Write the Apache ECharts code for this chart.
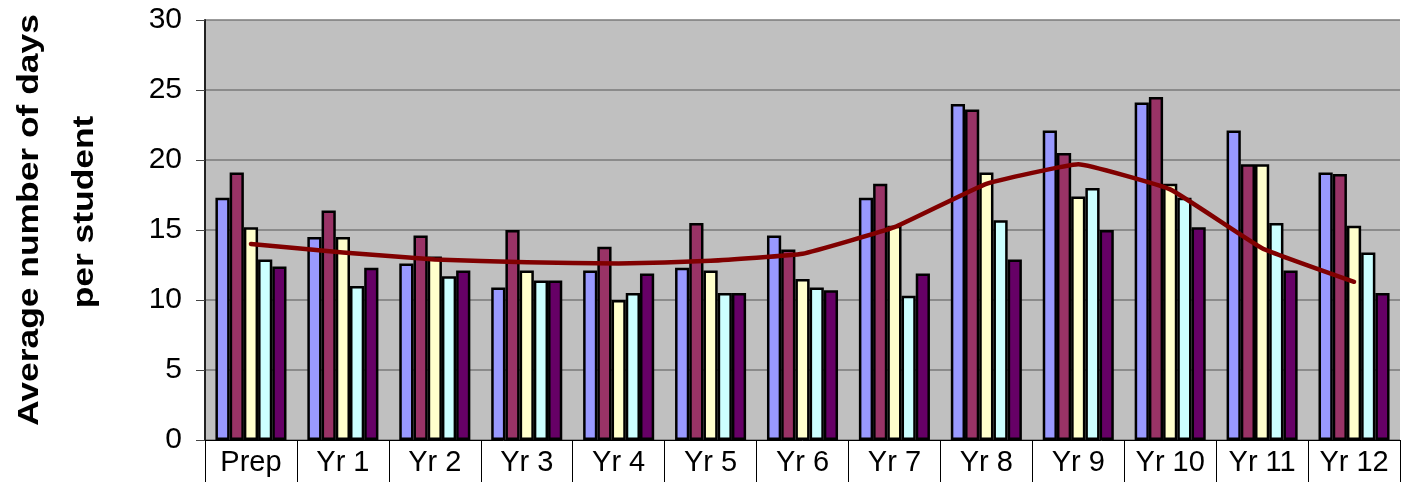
<!DOCTYPE html>
<html>
<head>
<meta charset="utf-8">
<script src="https://cdn.jsdelivr.net/npm/echarts@6/dist/echarts.min.js"></script>
<style>
html,body{margin:0;padding:0;background:#fff;}
#chart{width:1401px;height:482px;}
</style>
</head>
<body>
<div id="chart"></div>
<script>
var categories = ['Prep','Yr 1','Yr 2','Yr 3','Yr 4','Yr 5','Yr 6','Yr 7','Yr 8','Yr 9','Yr 10','Yr 11','Yr 12'];
var yTicks = [0, 5, 10, 15, 20, 25, 30];
var titleLines = ['Average number of days', 'per student'];
var series1 = [17.3, 14.5, 12.6, 10.9, 12.1, 12.3, 14.6, 17.3, 24.0, 22.1, 24.1, 22.1, 19.1];
var series2 = [19.1, 16.4, 14.6, 15.0, 13.8, 15.5, 13.6, 18.3, 23.6, 20.5, 24.5, 19.7, 19.0];
var series3 = [15.2, 14.5, 13.1, 12.1, 10.0, 12.1, 11.5, 15.3, 19.1, 17.4, 18.3, 19.7, 15.3];
var series4 = [12.9, 11.0, 11.7, 11.4, 10.5, 10.5, 10.9, 10.3, 15.7, 18.0, 17.3, 15.5, 13.4];
var series5 = [12.4, 12.3, 12.1, 11.4, 11.9, 10.5, 10.7, 11.9, 12.9, 15.0, 15.2, 12.1, 10.5];
var trend   = [14.0, 13.4, 12.9, 12.7, 12.6, 12.8, 13.3, 15.2, 18.3, 19.7, 17.9, 13.7, 11.3];

var barColors = ['#9999FF', '#993366', '#FFFFCC', '#CCFFFF', '#660066'];
var barData = [series1, series2, series3, series4, series5];
var FONT = '"Liberation Sans", Arial, sans-serif';

var seriesList = barData.map(function (d, i) {
  return {
    type: 'bar',
    data: d,
    barGap: '0%',
    barCategoryGap: '22.7%',
    itemStyle: { color: barColors[i], borderColor: '#000', borderWidth: 2.5 },
    emphasis: { disabled: true },
    z: 2
  };
});
seriesList.push({
  type: 'line',
  data: trend,
  smooth: 0.1,
  symbol: 'none',
  lineStyle: { color: '#800000', width: 4.5, cap: 'round', join: 'round' },
  emphasis: { disabled: true },
  z: 5
});

var chart = echarts.init(document.getElementById('chart'), null, { renderer: 'canvas' });
chart.setOption({
  animation: false,
  backgroundColor: '#ffffff',
  grid: { left: 205, right: 1, top: 20, bottom: 42, containLabel: false, outerBoundsMode: 'none', show: true, backgroundColor: '#C0C0C0', borderWidth: 0 },
  graphic: [
    { type: 'text', x: 30, y: 220, rotation: Math.PI / 2, scaleX: 1.18,
      style: { text: titleLines[0], fill: '#000', font: 'bold 30px ' + FONT, textAlign: 'center', textVerticalAlign: 'middle' } },
    { type: 'text', x: 85, y: 212, rotation: Math.PI / 2, scaleX: 1.18,
      style: { text: titleLines[1], fill: '#000', font: 'bold 30px ' + FONT, textAlign: 'center', textVerticalAlign: 'middle' } }
  ],
  xAxis: {
    type: 'category',
    data: categories,
    axisLine: { show: true, lineStyle: { color: '#000', width: 1 } },
    axisTick: { show: true, interval: 0, length: 42, lineStyle: { color: '#000', width: 1 } },
    axisLabel: { interval: 0, color: '#000', fontSize: 29, fontFamily: FONT, margin: 8 },
    splitLine: { show: false }
  },
  yAxis: {
    type: 'value',
    min: yTicks[0],
    max: yTicks[yTicks.length - 1],
    interval: 5,
    axisLine: { show: true, lineStyle: { color: '#222', width: 2 } },
    axisTick: { show: true, length: 9, lineStyle: { color: '#444' } },
    axisLabel: { color: '#000', fontSize: 30, fontFamily: FONT, margin: 23 },
    splitLine: { show: true, lineStyle: { color: '#7a7a7a', width: 1.5 } }
  },
  series: seriesList
});
</script>
</body>
</html>
